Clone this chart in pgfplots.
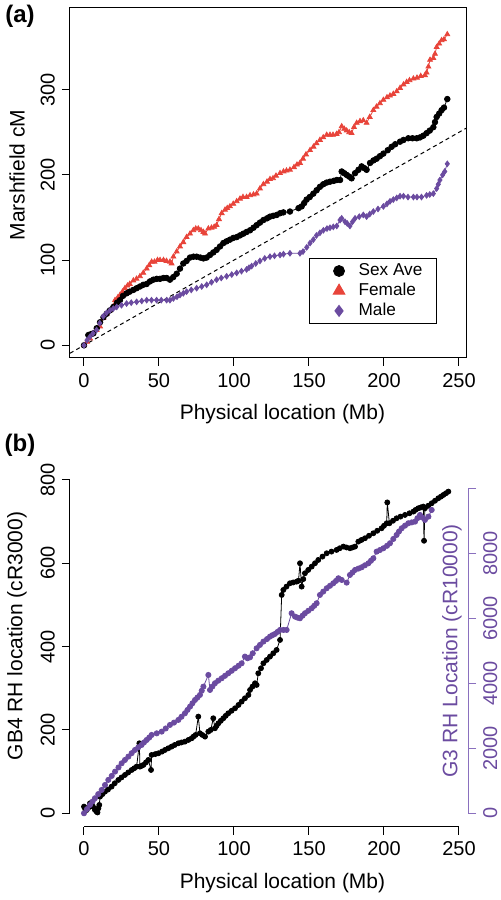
\documentclass[border=0pt]{standalone}
\usepackage{pgfplots}
\pgfplotsset{compat=1.18}
\usepackage{fontspec}
\setmainfont{Liberation Sans}
\definecolor{fred}{RGB}{232,68,58}
\definecolor{mpurp}{RGB}{107,75,160}
\definecolor{apurp}{RGB}{138,112,190}

\pgfplotstableread{
x y
0 0
2 4
4 8
6.2 14
8.4 18
10.7 22
12.9 32
15.1 37
17.3 41
19.6 46
20.7 53
22.5 56
24 59
25.7 63
27.3 67
29 70
30.5 72
32.9 76
35 78
37.3 81
39.5 85
41.8 90
43.5 94
45.1 98
47 98
49 100
50.7 100
53 100
55 99
57.3 98
58.4 96
59.6 104
61.8 110
64 116
66.2 121
68.4 127
70.7 131
72.9 135
74.5 137
76.2 137
78 135
79.6 133
80.7 131
82.9 137
85 138
86.8 139
88.4 141
90 148
91.8 155
94 159
95.5 161
97.3 163
99.5 166
101.8 169
104 172
106 174
108.4 174
110.7 176
113 177
115.1 178
117.3 184
119.6 189
122 192
124 195
126 196
128 199
130.7 202
133 204
135 205
137.3 206
140 209
142 212
144 214
146 219
148 224
150.7 229
153 233
155 237
157.3 241
159.5 244
161.8 247
164 247
166 247
168.4 248
170 250
171.8 257
173.5 254
175.1 252
176.8 250
178.4 249
180 256
181.8 261
184 263
186.2 264
188.4 261
190.5 268
192.9 276
195 280
197.3 284
199.6 288
202 291
204 293
206.2 295
208.5 298
210.7 302
213 306
215.1 309
217 311
219.6 313
222 314
224.5 316
227.3 317
228.4 320
229.6 327
230.7 335
232.9 337
234 342
235.1 350
236.8 354
238.4 358
240 359
242.2 365
}\female

\pgfplotstableread{
x y
0 0
2.9 12
4.5 13
6.2 14
8.5 20
10.7 27
13 33
15.1 37
17.3 41
19.6 45
22 50
24 53
26 58
28.4 61
30.5 63
32.9 65
35.1 67
37.3 69
39.5 71
41.8 72
44 75
46.2 77
48.5 78
50.7 78
53 79
55.1 79
57.3 77
59.5 80
61.8 84
64 90
66.2 96
68.4 99
70.7 103
73 104
75.1 104
77.5 103
79.6 102
81.8 103
84 106
86.2 109
88.4 112
90.7 116
92.9 120
95 122
97.3 124
99.5 126
101.8 127
104 129
106.2 131
108.4 133
110.7 135
113 138
115.1 141
117.3 144
119.6 147
122 149
124 151
126.2 152
128.5 153
130.7 155
132.9 156
137.3 157
143 161
145.1 163
146.8 167
148.4 171
150.5 174
152.9 178
155.1 182
157.3 186
159.5 189
161.8 191
164 192
166.5 193
168.5 194
170.7 194
171.8 204
173.5 202
175.1 200
176.8 198
178.4 196
180.7 202
183 206
185.1 210
186.8 208
188.4 206
190.7 214
193 217
195.1 219
197.3 222
199.6 225
202.5 229
205.1 233
207.5 236
210.7 239
213 241
216.2 243
219 243
221.8 243
224 244
226.2 246
228.4 249
230.5 252
232.9 256
234 262
235.1 268
236.8 272
238.4 276
240 279
242.2 289
}\sexave

\pgfplotstableread{
x y
0 0
2 6
4 10
6 14
8.4 18
10.5 26
12.9 34
15 38
17.3 41
19.5 43
21.8 45
25 47
28.4 49
31.5 50
35.1 51
38.5 52
41.8 53
45 53
48.4 53
51.5 53
55.1 53
57.3 53
59.6 55
62 57
64 59
66.2 61
68.4 63
71.5 65
75.1 67
78.5 69
81.8 71
85 74
88.4 77
91.5 79
95.1 81
98.5 83
101.8 85
105 87
108.4 89
110 91
111.8 93
114.5 96
117.3 99
120.5 102
124 104
127 105
130.7 106
133 107
137.3 108
144 108
146 110
148.5 115
150.7 120
152.9 124
155 129
157.3 132
159.6 135
162 137
164 138
166.2 139
168.5 140
170.7 147
171.8 149
174 145
175.5 143
177.3 140
179 145
180.7 149
183.5 151
186.2 153
188.4 151
190.5 154
192.9 157
196 160
199.6 163
202 166
204 169
206.2 171
208.5 173
210.7 175
213 175
216 174
219.6 174
222 174
225 174
228.4 176
230.5 177
232.9 178
235.1 184
236.2 189
237.3 194
239.1 200
240.5 204
242.2 213
}\male

\pgfplotstableread{
x y
0 16
0.8 10
1.8 8
3 14
4 24
5 20
6 16
7.3 8
8.4 4
9 2
9.6 12
10.2 20
10.7 40
12.3 46
14 52
16 57
18.4 64
20.5 72
22.9 80
25 86
27.3 92
29.5 98
31.8 104
33.5 108
35.1 112
36.9 168
37.3 112
38.5 114
39.6 116
41.3 122
42.9 128
44.7 104
45.1 140
47.5 142
49.6 144
52 148
54 152
56.2 156
58.4 160
60.5 164
62.9 168
65 170
67.3 172
69.6 176
71.8 180
73 184
74.4 188
76.2 232
77.3 192
78.9 188
80.7 184
82.9 196
84.5 200
86.2 228
87.3 204
88.4 210
89.6 216
91.2 222
92.9 228
94.5 234
96.2 240
98.4 246
100.7 252
103 260
105.1 268
107.3 276
109.6 284
110.7 296
112.3 304
114 312
115.1 308
116.2 336
118 348
119.6 360
121.8 368
124 376
126.2 384
128.4 392
130.7 416
131.8 524
132.9 536
135 544
137.3 552
139.5 554
141.8 556
143 558
144 600
145.1 544
146.2 562
147.3 576
149.5 584
151.8 592
154 600
156.2 608
159 616
161.8 624
165 628
168.4 632
170.5 636
172.9 640
175 638
177.3 636
179 638
180.7 640
182.9 652
185 656
187.3 660
190 666
192.9 672
195.5 678
198.4 684
200 690
201.8 696
202.2 746
203.6 696
206 702
208.4 708
211 712
214 716
217 720
219.6 724
221 728
222.9 732
224.5 734
226.2 736
226.7 654
227.3 732
229.5 738
231.8 744
234 750
236.2 756
238 760
239.6 764
241.3 768
242.9 772
}\gbfour

\pgfplotstableread{
x y
0 0
2 128
4 256
5.7 360
7.3 462
9.5 590
11.8 718
14 870
16.2 1026
18.5 1150
20.7 1282
23 1410
25.1 1538
27.3 1640
29.6 1744
31.8 1850
34 1949
36.2 2030
38.4 2103
40 2180
41.8 2256
43.5 2330
45.1 2410
48.5 2460
51.8 2513
54.5 2610
57.3 2718
60 2790
62.9 2872
65 2970
67.3 3077
69 3180
70.7 3282
72.3 3385
74 3487
75.6 3560
77.3 3641
78.5 3770
79.6 3897
82.9 4256
84 3795
85.6 3900
87.3 4000
89.5 4080
91.8 4154
94 4230
96.2 4308
98.5 4385
100.7 4462
103 4540
105.1 4615
107.3 4821
109 4770
110.7 4800
112.5 4923
115.1 5077
117.3 5180
119.6 5282
122 5360
124 5436
125.6 5480
127.3 5518
129 5580
130.7 5641
133 5641
135.1 5641
138.4 6154
140.7 6051
142.3 6020
144 6000
145.7 6080
147.3 6154
149.5 6230
151.8 6308
153.5 6385
155.1 6462
157.3 6718
159.5 6820
161.8 6923
164 7000
166.2 7077
168 7150
169.6 7231
171.8 7179
175.1 7097
177.3 7333
179 7410
180.7 7487
183 7530
185.1 7569
187.3 7630
189.6 7692
191.3 7770
192.9 7846
195.1 8051
197.3 8100
199.6 8154
202 8230
204 8308
206.2 8440
208.4 8564
210 8670
211.8 8769
214 8850
216.2 8923
218.5 8950
220.7 8974
222.3 9080
224 9179
225.6 9100
227.3 9026
229.6 9128
231.8 9333
}\gthree

\begin{document}
\begin{tikzpicture}
\useasboundingbox (0,0) rectangle (250pt,450pt);
\pgfplotsset{
  every axis/.append style={
    scale only axis, anchor=south west,
    tick align=outside, major tick length=4pt,
    /pgf/number format/assume math mode=true,
    /pgf/number format/1000 sep={},
    scaled y ticks=false, scaled x ticks=false,
    tick label style={font=\fontsize{10}{12}\selectfont},
    tick style={black, line width=0.5pt},
    xtick={0,50,...,250},
    xtick pos=bottom, xticklabel pos=bottom,
    clip=false,
  },
}
% ---------------- panel (a)
\begin{axis}[
  at={(35pt,271pt)}, width=198pt, height=175pt,
  xmin=-9.33, xmax=254.67, ymin=-14.9, ymax=395.9,
  ytick={0,100,200,300}, ytick pos=left, yticklabel pos=left,
  yticklabel style={rotate=90, anchor=south},
  axis line style={black, line width=0.5pt},
  legend style={at={(rel axis cs:0.6035,0.2857)}, anchor=north west,
    draw=black, line width=0.5pt, font=\fontsize{8.6}{10}\selectfont,
    inner xsep=6pt, inner ysep=1.5pt, row sep=0.3pt, column sep=0pt,
    nodes={inner sep=1pt}},
  legend cell align=left,
]
\addplot[black, line width=0.5pt, dash pattern=on 2pt off 1.6pt, forget plot] coordinates {(-9.33,-9.33) (254.67,254.67)};
\addplot[fred, line width=0.4pt, mark=triangle*, mark size=1.4pt, forget plot] table {\female};
\addplot[black, line width=0.4pt, mark=*, mark size=1.4pt, forget plot] table {\sexave};
\addplot[mpurp, line width=0.4pt, mark=diamond*, mark size=1.4pt, forget plot] table {\male};
\addlegendimage{black, draw opacity=0, mark=*, mark size=2.7pt, mark options={draw opacity=1, solid}}
\addlegendentry{Sex Ave}
\addlegendimage{fred, draw opacity=0, mark=triangle*, mark size=3.3pt, mark options={draw opacity=1, solid}}
\addlegendentry{Female}
\addlegendimage{mpurp, draw opacity=0, mark=diamond*, mark size=2.7pt, mark options={draw opacity=1, solid}}
\addlegendentry{Male}
\end{axis}
% ---------------- panel (b) left
\begin{axis}[
  at={(35pt,36.65pt)}, width=199pt, height=173.55pt,
  xmin=-9.33, xmax=256, ymin=-32.2, ymax=800.8,
  ytick={0,200,...,800}, ytick pos=left, yticklabel pos=left,
  yticklabel style={rotate=90, anchor=south},
  axis line style={draw=none},
]
\draw[black, line width=0.5pt] (axis cs:0,-32.2) -- (axis cs:250,-32.2);
\draw[black, line width=0.5pt] (axis cs:-9.33,0) -- (axis cs:-9.33,800);
\addplot[black, line width=0.4pt, mark=*, mark size=1.25pt] table {\gbfour};
\end{axis}
% ---------------- panel (b) right
\begin{axis}[
  at={(35pt,36.65pt)}, width=199pt, height=173.55pt,
  xmin=-9.33, xmax=256, ymin=-413, ymax=10267,
  hide x axis,
  ytick={0,2000,...,10000}, yticklabels={0,2000,4000,6000,8000,{}},
  ytick pos=right, yticklabel pos=right,
  yticklabel style={rotate=90, anchor=north, text=mpurp},
  y tick style={apurp},
  axis line style={draw=none},
]
\draw[apurp, line width=0.5pt] (axis cs:256,0) -- (axis cs:256,10000);
\addplot[mpurp, line width=0.4pt, mark=*, mark size=1.3pt] table {\gthree};
\end{axis}
% labels
\node[font=\bfseries\fontsize{12}{14}\selectfont] at (10pt,442pt) {(a)};
\node[font=\bfseries\fontsize{12}{14}\selectfont] at (10pt,227.5pt) {(b)};
\node[rotate=90, font=\fontsize{10.5}{12}\selectfont] at (8.5pt,362.5pt) {Marshfield cM};
\node[font=\fontsize{10.5}{12}\selectfont] at (141.25pt,243pt) {Physical location (Mb)};
\node[rotate=90, font=\fontsize{10.5}{12}\selectfont] at (8.5pt,132pt) {GB4 RH location (cR3000)};
\node[font=\fontsize{10.5}{12}\selectfont] at (141.25pt,8.5pt) {Physical location (Mb)};
\node[rotate=90, text=mpurp, font=\fontsize{10.5}{12}\selectfont] at (226pt,124.65pt) {G3 RH Location (cR10000)};
\end{tikzpicture}
\end{document}
